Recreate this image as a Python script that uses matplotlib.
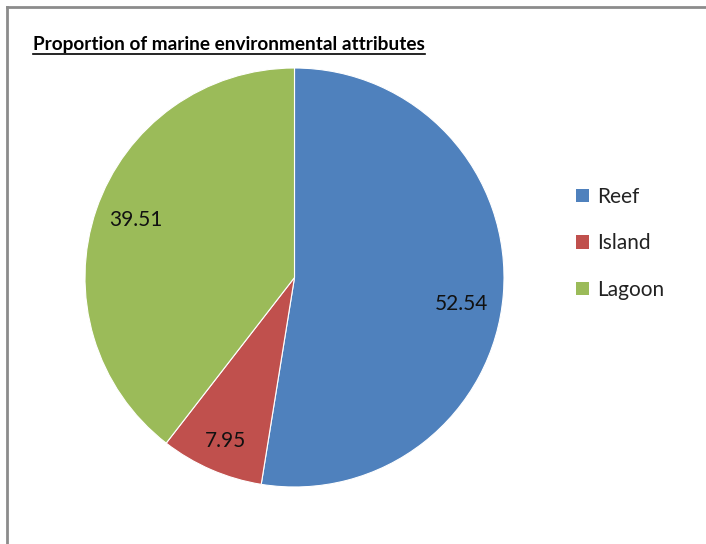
import matplotlib.pyplot as plt
from matplotlib.lines import Line2D
from matplotlib.patches import Patch

# データ
labels = ['Reef', 'Island', 'Lagoon']
values = [52.54, 7.95, 39.51]
colors = ['#4F81BD', '#C0504D', '#9BBB59']
title = 'Proportion of marine environmental attributes'

plt.rcParams['font.family'] = ['Lato', 'DejaVu Sans']

W, H = 706, 544
fig = plt.figure(figsize=(W / 100, H / 100), dpi=100)
ax = fig.add_axes([0, 0, 1, 1])

# 円グラフ（ピクセル座標で配置）
wedges, texts, autotexts = ax.pie(
    values, colors=colors, startangle=90, counterclock=False,
    center=(294.5, H - 277.5), radius=209.5, autopct='%.2f', pctdistance=0.8,
    wedgeprops=dict(edgecolor='white', linewidth=0.8),
    textprops=dict(fontsize=15, color='#111111'))

# ラベル位置の微調整（px）
label_shift = [(0, -13), (-2, -10), (0, 3)]
for at, (sx, sy) in zip(autotexts, label_shift):
    x, y = at.get_position()
    at.set_position((x + sx, y + sy))

ax.set_xlim(0, W)
ax.set_ylim(0, H)
ax.set_aspect('auto')
ax.axis('off')

# 凡例
handles = [Patch(facecolor=c, edgecolor='none') for c in colors]
ax.legend(handles, labels, loc='upper left', bbox_to_anchor=(557 / W, 1 - 168 / H),
          frameon=False, fontsize=15, handlelength=0.62, handleheight=0.62,
          handletextpad=0.4, labelspacing=1.27, labelcolor='#222222')

# タイトル（下線付き）
t = fig.text(33 / W, 1 - 50 / H, title, fontsize=13.7, fontweight='bold',
             color='black', ha='left', va='baseline')
fig.canvas.draw()
bb = t.get_window_extent()
y_line = 1 - 53.5 / H
fig.add_artist(Line2D([bb.x0 / W, bb.x1 / W], [y_line, y_line], color='black', lw=1.2))

# 枠線
fig.add_artist(Line2D([7 / W, 7 / W], [0, 1 - 7 / H], color='#8c8c8c', lw=2))
fig.add_artist(Line2D([7 / W, 1], [1 - 7 / H, 1 - 7 / H], color='#8c8c8c', lw=2))

plt.savefig('out.png', dpi=100)
